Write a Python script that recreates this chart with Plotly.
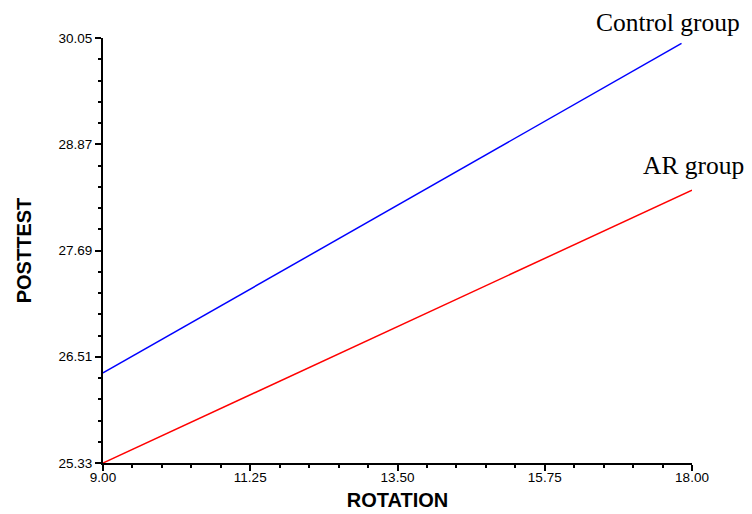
import plotly.graph_objects as go

rotation = [9.0, 17.84]
control_posttest = [26.33, 29.99]
ar_rotation = [9.0, 18.0]
ar_posttest = [25.33, 28.36]

x_ticks = [9.00, 11.25, 13.50, 15.75, 18.00]
y_ticks = [25.33, 26.51, 27.69, 28.87, 30.05]

fig = go.Figure()
fig.add_trace(go.Scatter(x=rotation, y=control_posttest, mode="lines",
                         line=dict(color="#0000ff", width=1.5), name="Control group"))
fig.add_trace(go.Scatter(x=ar_rotation, y=ar_posttest, mode="lines",
                         line=dict(color="#ff0000", width=1.5), name="AR group"))

tickfont = dict(family="Liberation Sans, Arial, sans-serif", size=13.5, color="#000000")
titlefont = dict(family="Liberation Sans, Arial, sans-serif", size=20, color="#000000")

fig.update_xaxes(range=[9, 18], tickvals=x_ticks, tickformat=".2f",
                 showline=True, linecolor="black", linewidth=2,
                 ticks="outside", ticklen=6, tickwidth=1.5, tickcolor="black",
                 ticklabelstandoff=-5,
                 showgrid=False, zeroline=False, tickfont=tickfont, automargin=False,
                 minor=dict(dtick=0.45, tick0=9, ticks="outside", ticklen=3,
                            tickcolor="black", tickwidth=1.5, showgrid=False),
                 title=dict(text="<b>ROTATION</b>", font=titlefont, standoff=9))
fig.update_yaxes(range=[25.33, 30.05], tickvals=y_ticks, tickformat=".2f",
                 showline=True, linecolor="black", linewidth=2,
                 ticks="outside", ticklen=6, tickwidth=1.5, tickcolor="black",
                 showgrid=False, zeroline=False, tickfont=tickfont, automargin=False,
                 minor=dict(dtick=0.236, tick0=25.33, ticks="outside", ticklen=3,
                            tickcolor="black", tickwidth=1.5, showgrid=False),
                 title=dict(text="<b>POSTTEST</b>", font=titlefont, standoff=22))

annfont = dict(family="Liberation Serif, Times New Roman, serif", size=25.5, color="#000000")
fig.add_annotation(text="Control group", xref="paper", yref="paper",
                   x=1.085, y=1.037, xanchor="right", yanchor="middle",
                   showarrow=False, font=annfont)
fig.add_annotation(text="AR group", xref="paper", yref="paper",
                   x=1.092, y=0.701, xanchor="right", yanchor="middle",
                   showarrow=False, font=annfont)

fig.update_layout(width=744, height=506, showlegend=False,
                  plot_bgcolor="white", paper_bgcolor="white",
                  margin=dict(l=95, r=60, t=30, b=51))

fig.write_html("out.html")
